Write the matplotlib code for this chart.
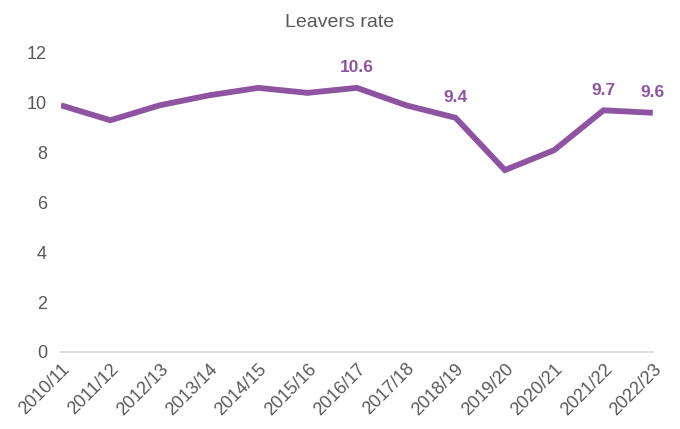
import matplotlib.pyplot as plt

plt.rcParams['font.family'] = ['Liberation Sans', 'DejaVu Sans']

years = ["2010/11", "2011/12", "2012/13", "2013/14", "2014/15", "2015/16", "2016/17",
         "2017/18", "2018/19", "2019/20", "2020/21", "2021/22", "2022/23"]
rates = [9.9, 9.3, 9.9, 10.3, 10.6, 10.4, 10.6, 9.9, 9.4, 7.3, 8.1, 9.7, 9.6]
labelled = ["2016/17", "2018/19", "2021/22", "2022/23"]

purple = "#8E54A2"
grey = "#595959"

fig = plt.figure(figsize=(6.8, 4.29), dpi=100)
ax = fig.add_axes([0.0897, 0.1795, 0.8703, 0.697])

xs = list(range(len(years)))
ax.plot(xs, rates, color=purple, linewidth=4.2, solid_capstyle="butt", solid_joinstyle="miter")

for x, yr, v in zip(xs, years, rates):
    if yr in labelled:
        ax.annotate(f"{v:.1f}", (x, v), xytext=(0, 9), textcoords="offset points",
                    ha="center", va="bottom", color=purple, fontsize=12.5, fontweight="bold")

ax.set_xlim(0, len(years) - 1)
ax.set_ylim(0, 12)
ax.set_yticks([0, 2, 4, 6, 8, 10, 12])
ax.set_xticks(xs)
ax.set_xticklabels(years, rotation=45, ha="right", rotation_mode="anchor")
ax.tick_params(axis="both", length=0, colors=grey, labelsize=13)
ax.tick_params(axis="x", pad=6)
ax.tick_params(axis="y", pad=10)

for s in ["top", "right", "left"]:
    ax.spines[s].set_visible(False)
ax.spines["bottom"].set_color("#D9D9D9")
ax.spines["bottom"].set_linewidth(1.2)

fig.text(0.5, 0.947, "Leavers rate", ha="center", va="center", fontsize=14, color=grey)

fig.savefig("out.png", dpi=100)
